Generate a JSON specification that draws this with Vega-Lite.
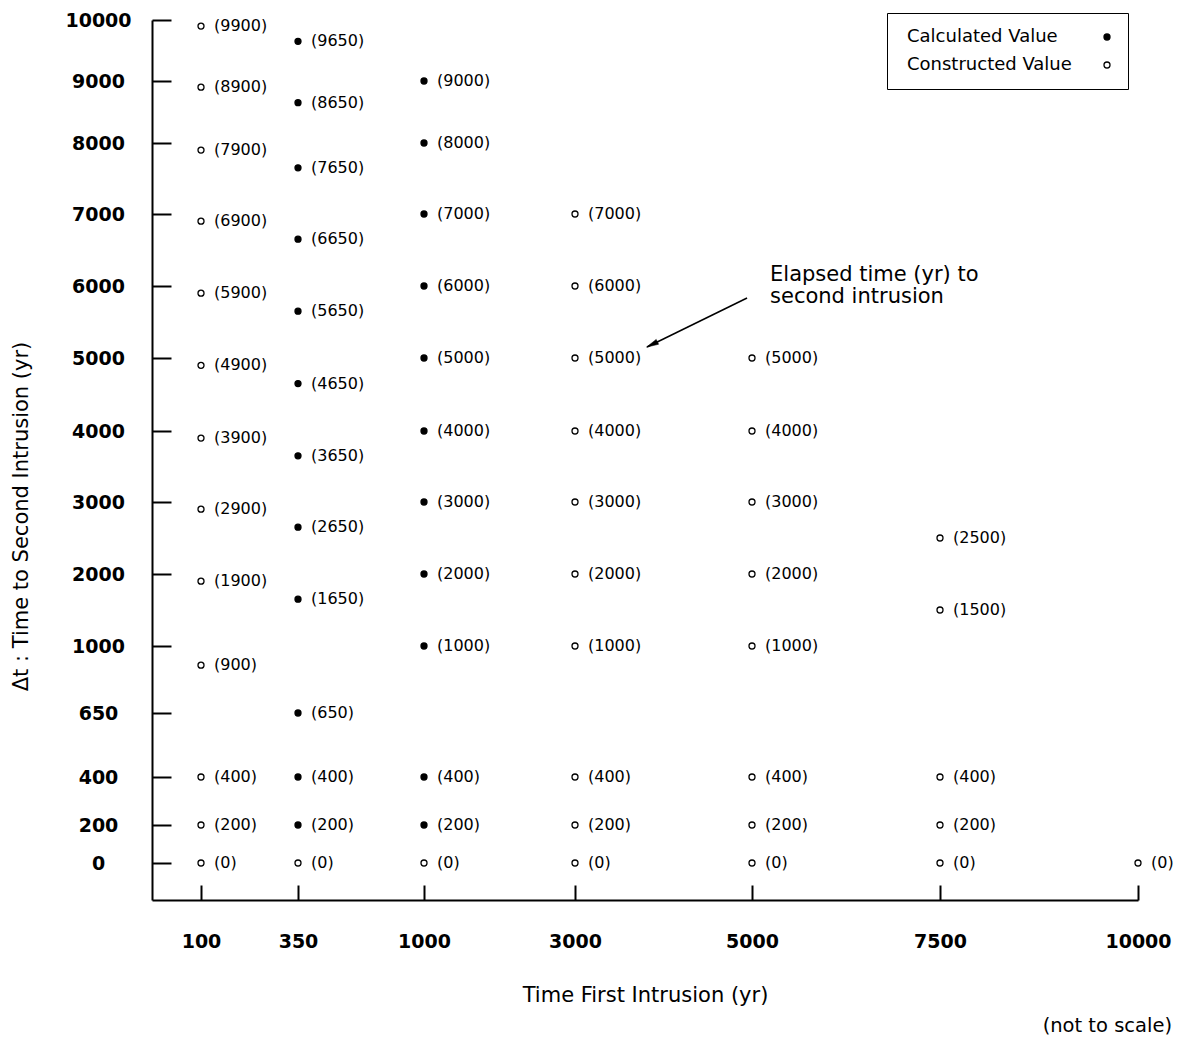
{
  "$schema": "https://vega.github.io/schema/vega-lite/v6.json",
  "width": 986,
  "height": 880,
  "autosize": {"type": "none"},
  "padding": {"left": 152, "top": 20, "right": 51, "bottom": 140},
  "background": "white",
  "config": {
    "view": {"stroke": null},
    "font": "DejaVu Sans",
    "axis": {
      "grid": false,
      "domainColor": "black",
      "tickColor": "black",
      "labelColor": "black",
      "titleColor": "black",
      "domainWidth": 2,
      "tickWidth": 2,
      "labelFont": "DejaVu Sans",
      "titleFont": "DejaVu Sans",
      "titleFontWeight": "normal"
    }
  },
  "title": {
    "text": "(not to scale)",
    "orient": "bottom",
    "anchor": "end",
    "frame": "group",
    "dx": 34,
    "offset": 12,
    "fontSize": 19.5,
    "fontWeight": "normal",
    "font": "DejaVu Sans",
    "color": "black"
  },
  "data": {
    "values": [
      {"first": 100, "second": 9900, "type": "Constructed Value", "label": "(9900)"},
      {"first": 100, "second": 8900, "type": "Constructed Value", "label": "(8900)"},
      {"first": 100, "second": 7900, "type": "Constructed Value", "label": "(7900)"},
      {"first": 100, "second": 6900, "type": "Constructed Value", "label": "(6900)"},
      {"first": 100, "second": 5900, "type": "Constructed Value", "label": "(5900)"},
      {"first": 100, "second": 4900, "type": "Constructed Value", "label": "(4900)"},
      {"first": 100, "second": 3900, "type": "Constructed Value", "label": "(3900)"},
      {"first": 100, "second": 2900, "type": "Constructed Value", "label": "(2900)"},
      {"first": 100, "second": 1900, "type": "Constructed Value", "label": "(1900)"},
      {"first": 100, "second": 900, "type": "Constructed Value", "label": "(900)"},
      {"first": 100, "second": 400, "type": "Constructed Value", "label": "(400)"},
      {"first": 100, "second": 200, "type": "Constructed Value", "label": "(200)"},
      {"first": 100, "second": 0, "type": "Constructed Value", "label": "(0)"},
      {"first": 350, "second": 9650, "type": "Calculated Value", "label": "(9650)"},
      {"first": 350, "second": 8650, "type": "Calculated Value", "label": "(8650)"},
      {"first": 350, "second": 7650, "type": "Calculated Value", "label": "(7650)"},
      {"first": 350, "second": 6650, "type": "Calculated Value", "label": "(6650)"},
      {"first": 350, "second": 5650, "type": "Calculated Value", "label": "(5650)"},
      {"first": 350, "second": 4650, "type": "Calculated Value", "label": "(4650)"},
      {"first": 350, "second": 3650, "type": "Calculated Value", "label": "(3650)"},
      {"first": 350, "second": 2650, "type": "Calculated Value", "label": "(2650)"},
      {"first": 350, "second": 1650, "type": "Calculated Value", "label": "(1650)"},
      {"first": 350, "second": 650, "type": "Calculated Value", "label": "(650)"},
      {"first": 350, "second": 400, "type": "Calculated Value", "label": "(400)"},
      {"first": 350, "second": 200, "type": "Calculated Value", "label": "(200)"},
      {"first": 350, "second": 0, "type": "Constructed Value", "label": "(0)"},
      {"first": 1000, "second": 9000, "type": "Calculated Value", "label": "(9000)"},
      {"first": 1000, "second": 8000, "type": "Calculated Value", "label": "(8000)"},
      {"first": 1000, "second": 7000, "type": "Calculated Value", "label": "(7000)"},
      {"first": 1000, "second": 6000, "type": "Calculated Value", "label": "(6000)"},
      {"first": 1000, "second": 5000, "type": "Calculated Value", "label": "(5000)"},
      {"first": 1000, "second": 4000, "type": "Calculated Value", "label": "(4000)"},
      {"first": 1000, "second": 3000, "type": "Calculated Value", "label": "(3000)"},
      {"first": 1000, "second": 2000, "type": "Calculated Value", "label": "(2000)"},
      {"first": 1000, "second": 1000, "type": "Calculated Value", "label": "(1000)"},
      {"first": 1000, "second": 400, "type": "Calculated Value", "label": "(400)"},
      {"first": 1000, "second": 200, "type": "Calculated Value", "label": "(200)"},
      {"first": 1000, "second": 0, "type": "Constructed Value", "label": "(0)"},
      {"first": 3000, "second": 7000, "type": "Constructed Value", "label": "(7000)"},
      {"first": 3000, "second": 6000, "type": "Constructed Value", "label": "(6000)"},
      {"first": 3000, "second": 5000, "type": "Constructed Value", "label": "(5000)"},
      {"first": 3000, "second": 4000, "type": "Constructed Value", "label": "(4000)"},
      {"first": 3000, "second": 3000, "type": "Constructed Value", "label": "(3000)"},
      {"first": 3000, "second": 2000, "type": "Constructed Value", "label": "(2000)"},
      {"first": 3000, "second": 1000, "type": "Constructed Value", "label": "(1000)"},
      {"first": 3000, "second": 400, "type": "Constructed Value", "label": "(400)"},
      {"first": 3000, "second": 200, "type": "Constructed Value", "label": "(200)"},
      {"first": 3000, "second": 0, "type": "Constructed Value", "label": "(0)"},
      {"first": 5000, "second": 5000, "type": "Constructed Value", "label": "(5000)"},
      {"first": 5000, "second": 4000, "type": "Constructed Value", "label": "(4000)"},
      {"first": 5000, "second": 3000, "type": "Constructed Value", "label": "(3000)"},
      {"first": 5000, "second": 2000, "type": "Constructed Value", "label": "(2000)"},
      {"first": 5000, "second": 1000, "type": "Constructed Value", "label": "(1000)"},
      {"first": 5000, "second": 400, "type": "Constructed Value", "label": "(400)"},
      {"first": 5000, "second": 200, "type": "Constructed Value", "label": "(200)"},
      {"first": 5000, "second": 0, "type": "Constructed Value", "label": "(0)"},
      {"first": 7500, "second": 2500, "type": "Constructed Value", "label": "(2500)"},
      {"first": 7500, "second": 1500, "type": "Constructed Value", "label": "(1500)"},
      {"first": 7500, "second": 400, "type": "Constructed Value", "label": "(400)"},
      {"first": 7500, "second": 200, "type": "Constructed Value", "label": "(200)"},
      {"first": 7500, "second": 0, "type": "Constructed Value", "label": "(0)"},
      {"first": 10000, "second": 0, "type": "Constructed Value", "label": "(0)"}
    ]
  },
  "layer": [
    {
      "mark": {"type": "point", "filled": true, "stroke": "black", "strokeWidth": 1.3, "size": 36, "opacity": 1},
      "encoding": {
        "x": {
          "field": "first",
          "type": "quantitative",
          "scale": {
            "domain": [0, 100, 350, 1000, 3000, 5000, 7500, 10000],
            "range": [0, 49, 146, 272, 423, 600, 788, 986],
            "zero": false,
            "nice": false
          },
          "axis": {
            "values": [100, 350, 1000, 3000, 5000, 7500, 10000],
            "format": "d",
            "title": "Time First Intrusion (yr)",
            "tickSize": -15,
            "labelPadding": 47,
            "labelFontSize": 19,
            "labelFontWeight": "bold",
            "titleFontSize": 21,
            "titlePadding": 33,
            "labelFlush": false,
            "labelOverlap": false
          }
        },
        "y": {
          "field": "second",
          "type": "quantitative",
          "scale": {
            "domain": [-200, 0, 200, 400, 650, 1000, 2000, 3000, 4000, 5000, 6000, 7000, 8000, 9000, 10000],
            "range": [880, 843, 805, 757, 693, 626, 554, 482, 411, 338, 266, 194, 123, 61, 0],
            "zero": false,
            "nice": false
          },
          "axis": {
            "values": [0, 200, 400, 650, 1000, 2000, 3000, 4000, 5000, 6000, 7000, 8000, 9000, 10000],
            "format": "d",
            "title": "Δt : Time to Second Intrusion (yr)",
            "tickSize": -19,
            "labelAlign": "center",
            "labelBaseline": "middle",
            "labelPadding": 73,
            "labelFontSize": 19,
            "labelFontWeight": "bold",
            "titleFontSize": 21,
            "titleAngle": -90,
            "titleX": -131,
            "titleY": 496,
            "titleAlign": "center",
            "titleBaseline": "middle",
            "labelOverlap": false
          }
        },
        "fill": {
          "field": "type",
          "type": "nominal",
          "scale": {"domain": ["Calculated Value", "Constructed Value"], "range": ["black", "white"]},
          "legend": {
            "title": null,
            "orient": "none",
            "legendX": 735,
            "legendY": -7,
            "strokeColor": "black",
            "fillColor": "white",
            "padding": 15,
            "labelFontSize": 18,
            "labelLimit": 400,
            "labelFont": "DejaVu Sans",
            "labelColor": "black",
            "labelOffset": -209,
            "symbolOffset": 196,
            "symbolType": "circle",
            "symbolSize": 36,
            "symbolStrokeColor": "black",
            "symbolStrokeWidth": 1.3,
            "rowPadding": 10
          }
        }
      }
    },
    {
      "mark": {"type": "text", "align": "left", "baseline": "middle", "dx": 13, "fontSize": 16, "font": "DejaVu Sans", "color": "black"},
      "encoding": {
        "x": {"field": "first", "type": "quantitative"},
        "y": {"field": "second", "type": "quantitative"},
        "text": {"field": "label"}
      }
    },
    {
      "data": {"values": [{"first": 4944, "second": 5833, "first2": 3814, "second2": 5153}]},
      "mark": {"type": "rule", "color": "black", "strokeWidth": 1.5},
      "encoding": {
        "x": {"field": "first", "type": "quantitative"},
        "y": {"field": "second", "type": "quantitative"},
        "x2": {"field": "first2"},
        "y2": {"field": "second2"}
      }
    },
    {
      "data": {"values": [{"first": 3870, "second": 5188}]},
      "mark": {"type": "point", "shape": "M0,-1L0.45,1L-0.45,1Z", "angle": 244, "size": 144, "filled": true, "fill": "black", "stroke": "black", "strokeWidth": 0.5, "opacity": 1},
      "encoding": {
        "x": {"field": "first", "type": "quantitative"},
        "y": {"field": "second", "type": "quantitative"}
      }
    },
    {
      "data": {"values": [{"first": 5240, "second": 6150, "note": "Elapsed time (yr) to\nsecond intrusion"}]},
      "mark": {"type": "text", "align": "left", "baseline": "middle", "lineBreak": "\n", "lineHeight": 22, "fontSize": 21, "font": "DejaVu Sans", "color": "black"},
      "encoding": {
        "x": {"field": "first", "type": "quantitative"},
        "y": {"field": "second", "type": "quantitative"},
        "text": {"field": "note"}
      }
    }
  ]
}
